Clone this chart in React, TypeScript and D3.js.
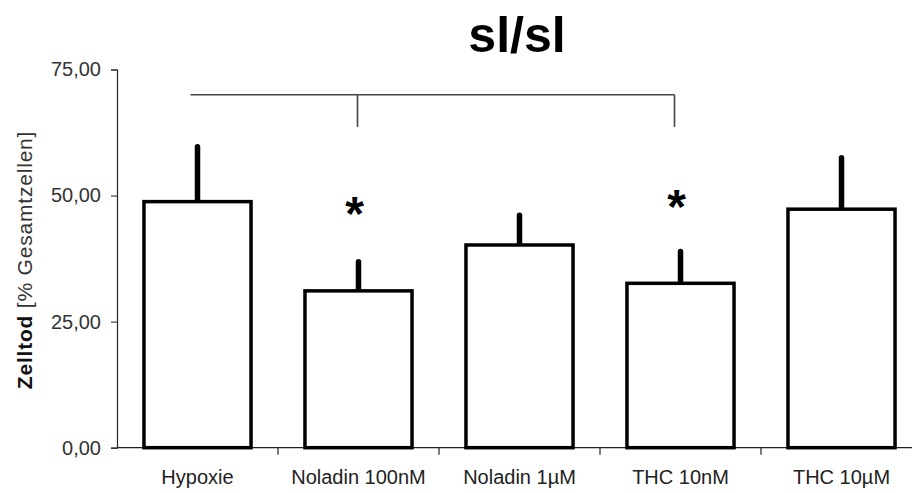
import { useRef, useEffect } from 'react';
import * as d3 from 'd3';

// Zelltod [% Gesamtzellen], sl/sl
const categories = ['Hypoxie', 'Noladin 100nM', 'Noladin 1µM', 'THC 10nM', 'THC 10µM'];
const means = [48.8, 31.1, 40.2, 32.6, 47.3];
const errUpper = [59.7, 36.9, 46.1, 38.9, 57.5];
const yTicks = [0, 25, 50, 75];
// significance markers
const starCats = ['Noladin 100nM', 'THC 10nM'];
const starValues = [48.5, 50.0];
const bracketFrom = 'Hypoxie';
const bracketTo = 'THC 10nM';
const bracketDrops = ['Noladin 100nM', 'THC 10nM'];
const bracketLevel = 70;
const bracketDropTo = 63.6;

const width = 912;
const height = 493;

export default function App() {
    const svgRef = useRef<SVGSVGElement | null>(null);

    useEffect(() => {
        if (!svgRef.current) return;
        const svg = d3.select(svgRef.current);
        svg.selectAll('*').remove();

        const left = 117;
        const x = d3.scaleBand<string>()
            .domain(categories)
            .range([left, left + 161 * categories.length])
            .paddingInner(0.335)
            .paddingOuter(0.1675);
        const y = d3.scaleLinear().domain([0, 75]).range([447.7, 69.5]);
        const cx = (c: string) => (x(c) as number) + x.bandwidth() / 2;

        svg.append('rect').attr('width', width).attr('height', height).attr('fill', '#fff');

        // title
        svg.append('text')
            .attr('x', 517).attr('y', 52)
            .attr('text-anchor', 'middle')
            .attr('font-family', 'Liberation Sans, Arial, sans-serif')
            .attr('font-weight', 'bold')
            .attr('font-size', 50)
            .text('sl/sl');

        // y axis
        const yAxis = svg.append('g')
            .attr('transform', `translate(${left},0)`)
            .call(d3.axisLeft(y).tickValues(yTicks).tickSize(6).tickPadding(10)
                .tickFormat(d => d3.format('.2f')(d as number).replace('.', ',')));
        yAxis.select('.domain').attr('stroke', '#222').attr('stroke-width', 1.2);
        yAxis.selectAll('.tick line').attr('stroke', '#222');
        yAxis.selectAll('.tick text')
            .attr('font-family', 'Liberation Sans, Arial, sans-serif')
            .attr('font-size', 20)
            .attr('fill', '#333');

        // y title
        const yt = svg.append('text')
            .attr('transform', 'translate(32,260) rotate(-90)')
            .attr('text-anchor', 'middle')
            .attr('font-family', 'Liberation Sans, Arial, sans-serif')
            .attr('font-size', 21)
            .attr('letter-spacing', 0.8);
        yt.append('tspan').attr('font-weight', 'bold').attr('fill', '#111').text('Zelltod');
        yt.append('tspan').attr('fill', '#333').text(' [% Gesamtzellen]');

        // x axis
        svg.append('line')
            .attr('x1', left).attr('x2', width)
            .attr('y1', y(0)).attr('y2', y(0))
            .attr('stroke', '#222').attr('stroke-width', 1.2);
        categories.slice(1).forEach(c => {
            const tx = (x(c) as number) - x.step() * x.paddingInner() / 2;
            svg.append('line')
                .attr('x1', tx).attr('x2', tx)
                .attr('y1', y(0)).attr('y2', y(0) + 7)
                .attr('stroke', '#222').attr('stroke-width', 1.2);
        });
        svg.append('g').selectAll('text')
            .data(categories)
            .enter().append('text')
            .attr('x', d => cx(d))
            .attr('y', 484)
            .attr('text-anchor', 'middle')
            .attr('font-family', 'Liberation Sans, Arial, sans-serif')
            .attr('font-size', 20)
            .attr('fill', '#222')
            .text(d => d);

        // error bars
        svg.append('g').selectAll('line')
            .data(categories)
            .enter().append('line')
            .attr('x1', d => cx(d)).attr('x2', d => cx(d))
            .attr('y1', (d, i) => y(means[i]))
            .attr('y2', (d, i) => y(errUpper[i]))
            .attr('stroke', '#000')
            .attr('stroke-width', 5.5)
            .attr('stroke-linecap', 'round');

        // bars
        svg.append('g').selectAll('rect')
            .data(categories)
            .enter().append('rect')
            .attr('x', d => x(d) as number)
            .attr('y', (d, i) => y(means[i]))
            .attr('width', x.bandwidth())
            .attr('height', (d, i) => y(0) - y(means[i]))
            .attr('fill', '#fff')
            .attr('stroke', '#000')
            .attr('stroke-width', 3.5);

        // bracket
        const b = svg.append('g').attr('stroke', '#444').attr('stroke-width', 1.6).attr('fill', 'none');
        b.append('line')
            .attr('x1', cx(bracketFrom) - 7).attr('x2', cx(bracketTo) - 6)
            .attr('y1', y(bracketLevel)).attr('y2', y(bracketLevel));
        bracketDrops.forEach((c, i) => {
            const bx = i === bracketDrops.length - 1 ? cx(c) - 6 : cx(c) - 1;
            b.append('line')
                .attr('x1', bx).attr('x2', bx)
                .attr('y1', y(bracketLevel)).attr('y2', y(bracketDropTo));
        });

        // asterisks
        svg.append('g').selectAll('text')
            .data(starCats)
            .enter().append('text')
            .attr('x', d => cx(d) - 4)
            .attr('y', (d, i) => y(starValues[i]) + 27)
            .attr('text-anchor', 'middle')
            .attr('font-family', 'Liberation Sans, Arial, sans-serif')
            .attr('font-weight', 'bold')
            .attr('font-size', 48)
            .text('*');
    }, []);

    return (
        <svg ref={svgRef} width={width} height={height}
            style={{ position: 'absolute', left: 0, top: 0, display: 'block' }} />
    );
}
